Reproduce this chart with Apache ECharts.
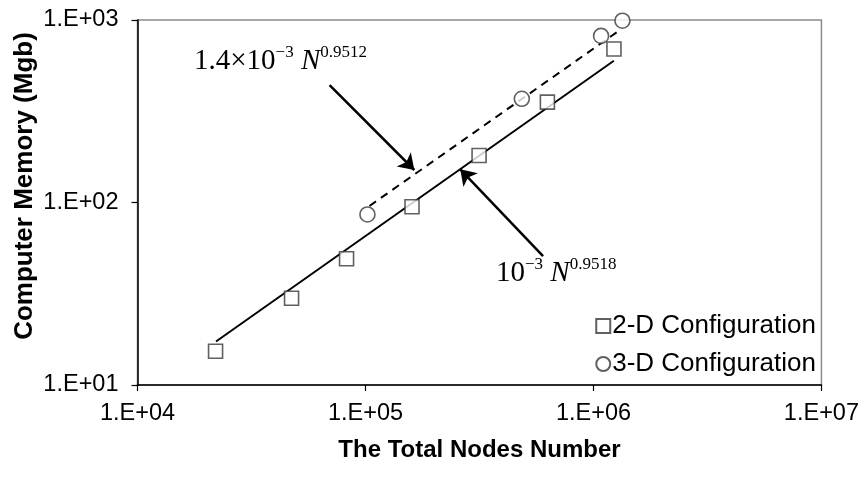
<!DOCTYPE html>
<html>
<head>
<meta charset="utf-8">
<script src="https://cdn.jsdelivr.net/npm/echarts@6/dist/echarts.min.js"></script>
<style>html,body{margin:0;padding:0;background:#fff}#c{width:862px;height:482px}</style>
</head>
<body>
<div id="c"></div>
<script>
// ---- data ----
const nodes2D = [22000, 47400, 82600, 160000, 315000, 628000, 1230000];
const mem2D   = [15.3, 29.9, 49.2, 94.7, 181, 355, 694];
const nodes3D = [102000, 485000, 1080000, 1340000];
const mem3D   = [86, 370, 818, 991];
const fit2DNodes = [22100, 1229000];
const fit2DMem   = [17.3, 598];
const fit3DNodes = [104100, 1302000];
const fit3DMem   = [95.7, 878];
const arrow3DFrom = [69600, 440];
const arrow3DTo   = [163800, 150.7];
const arrow2DFrom = [601000, 50.9];
const arrow2DTo   = [260500, 152];
const seriesNames = ['2-D Configuration', '3-D Configuration'];
const xTitle = 'The Total Nodes Number';
const yTitle = 'Computer Memory (Mgb)';

const zip = (a, b) => a.map((v, i) => [v, b[i]]);
const fmt = v => '1.E+' + String(Math.round(Math.log10(v))).padStart(2, '0');

const chart = echarts.init(document.getElementById('c'));
const markerStyle = { color: '#ffffff', borderColor: '#383838', borderWidth: 1.6 };
const arrowLine = (from, to) => ({
  silent: true,
  symbol: ['none', 'arrow'],
  symbolSize: 15,
  label: { show: false },
  itemStyle: { color: '#000' },
  lineStyle: { color: '#000', width: 2.5, type: 'solid' },
  data: [[{ coord: from }, { coord: to }]]
});

chart.setOption({
  animation: false,
  backgroundColor: '#fff',
  grid: { left: 137.5, right: 39, top: 20, bottom: 97, show: true, borderColor: '#8c8c8c', borderWidth: 1.5 },
  xAxis: {
    type: 'log', logBase: 10, min: 1e4, max: 1e7,
    name: xTitle, nameLocation: 'middle', nameGap: 53,
    nameTextStyle: { fontFamily: 'Liberation Sans', fontWeight: 'bold', fontSize: 24, color: '#000' },
    axisLine: { lineStyle: { color: '#000', width: 1.5 } },
    axisTick: { show: true, length: 6, lineStyle: { color: '#000', width: 1.2 } },
    minorTick: { show: false },
    splitLine: { show: false },
    axisLabel: { formatter: fmt, fontFamily: 'Liberation Sans', fontSize: 23.5, color: '#000', margin: 17 }
  },
  yAxis: {
    type: 'log', logBase: 10, min: 10, max: 1000,
    axisLine: { show: true, lineStyle: { color: '#000', width: 1.5 } },
    axisTick: { show: true, length: 6, lineStyle: { color: '#000', width: 1.2 } },
    splitLine: { show: false },
    axisLabel: { formatter: fmt, fontFamily: 'Liberation Sans', fontSize: 23.5, color: '#000', margin: 19 }
  },
  legend: {
    data: seriesNames, orient: 'vertical', right: 41, top: 308,
    itemWidth: 14, itemHeight: 14, itemGap: 12,
    textStyle: { fontFamily: 'Liberation Sans', fontSize: 26, color: '#000', padding: [0, 0, 0, -3] }
  },
  graphic: [
    {
      type: 'text', x: 25, y: 186, rotation: Math.PI / 2,
      style: { text: yTitle, fontFamily: 'Liberation Sans', fontWeight: 'bold', fontSize: 26, fill: '#000', align: 'center', verticalAlign: 'middle' }
    },
    {
      type: 'text', left: 194, top: 44,
      style: {
        text: '{a|1.4×10}{s|−3}{n| N}{s|0.9512}',
        rich: {
          a: { fontFamily: 'Liberation Serif', fontSize: 29, fill: '#000', lineHeight: 32, verticalAlign: 'bottom' },
          s: { fontFamily: 'Liberation Serif', fontSize: 17, fill: '#000', lineHeight: 32, verticalAlign: 'top' },
          n: { fontFamily: 'Liberation Serif', fontStyle: 'italic', fontSize: 29, fill: '#000', lineHeight: 32, verticalAlign: 'bottom' }
        }
      }
    },
    {
      type: 'text', left: 496, top: 256,
      style: {
        text: '{a|10}{s|−3}{n| N}{s|0.9518}',
        rich: {
          a: { fontFamily: 'Liberation Serif', fontSize: 29, fill: '#000', lineHeight: 32, verticalAlign: 'bottom' },
          s: { fontFamily: 'Liberation Serif', fontSize: 17, fill: '#000', lineHeight: 32, verticalAlign: 'top' },
          n: { fontFamily: 'Liberation Serif', fontStyle: 'italic', fontSize: 29, fill: '#000', lineHeight: 32, verticalAlign: 'bottom' }
        }
      }
    }
  ],
  series: [
    {
      name: '2-D fit', type: 'line', data: zip(fit2DNodes, fit2DMem), symbol: 'none', z: 2,
      color: '#000',
      lineStyle: { color: '#000', width: 2 },
      markLine: arrowLine(arrow2DFrom, arrow2DTo)
    },
    {
      name: '3-D fit', type: 'line', data: zip(fit3DNodes, fit3DMem), symbol: 'none', z: 2,
      color: '#000',
      lineStyle: { color: '#000', width: 2, type: [8, 6] },
      markLine: arrowLine(arrow3DFrom, arrow3DTo)
    },
    {
      name: seriesNames[0], type: 'scatter', data: zip(nodes2D, mem2D), z: 5,
      symbol: 'rect', symbolSize: 14, itemStyle: markerStyle
    },
    {
      name: seriesNames[1], type: 'scatter', data: zip(nodes3D, mem3D), z: 5,
      symbol: 'circle', symbolSize: 15, itemStyle: markerStyle
    }
  ]
});
</script>
</body>
</html>
